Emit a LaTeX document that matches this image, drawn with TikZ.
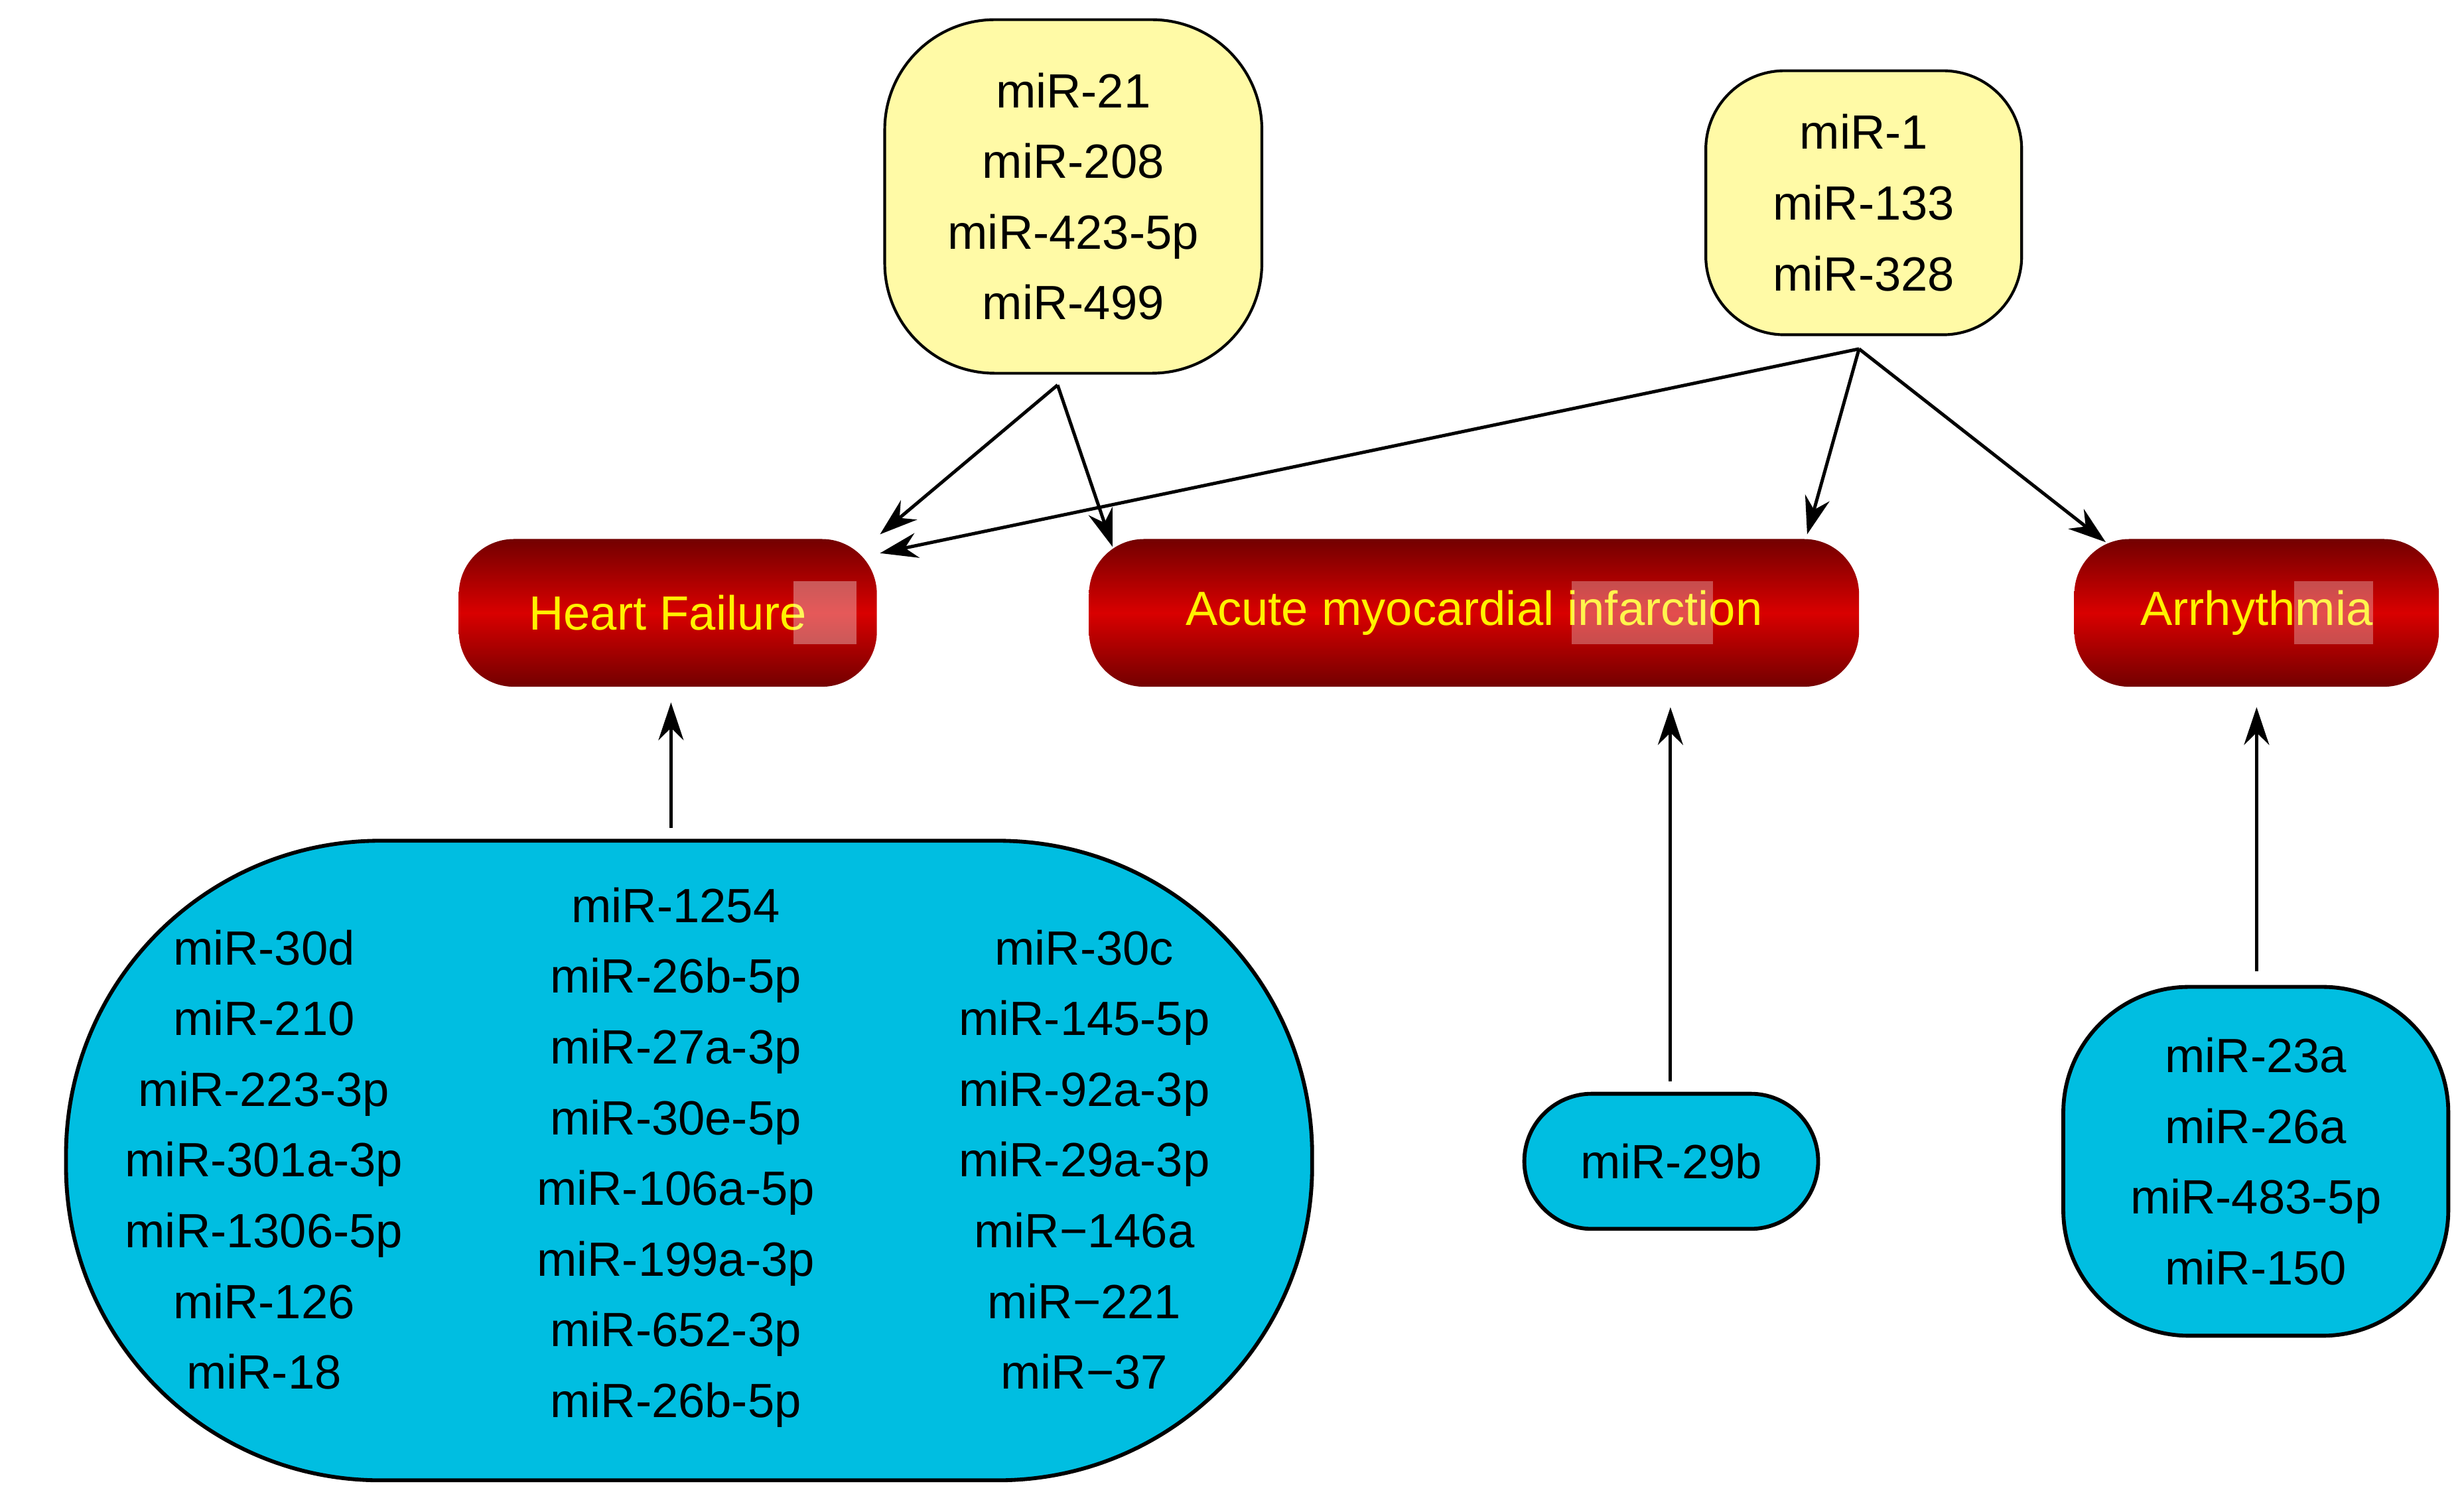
\documentclass[tikz,border=0pt]{standalone}
\usepackage{fontspec}
\setmainfont{Liberation Sans}
\usetikzlibrary{arrows.meta,shapes.misc}
\begin{document}
\begin{tikzpicture}[
  txt/.style={font=\fontsize{8.7}{12.8}\selectfont,align=center,inner sep=0pt},
  yel/.style={draw=black,line width=0.5pt,fill=yellow!35!white,rounded corners=0.7cm},
  blu/.style={draw=black,line width=0.7pt,fill=cyan!70!blue!80!white},
  red/.style={rounded corners=0.35cm,top color=red!45!black,bottom color=red!45!black,middle color=red!85!black,minimum height=0.94cm,text=yellow,font=\fontsize{8.7}{12.8}\selectfont},
  arr/.style={-{Stealth[length=2.4mm,width=1.6mm]},line width=0.6pt}
]
\useasboundingbox (0,0) rectangle (15.68,-9.57);
\definecolor{bluefill}{RGB}{0,190,225}
% yellow nodes
\node[yel,minimum width=2.4cm,minimum height=2.25cm,txt] (y1) at (6.83,-1.25) {miR-21\\miR-208\\miR-423-5p\\miR-499};
\node[yel,minimum width=2.01cm,minimum height=1.68cm,rounded corners=0.5cm,txt] (y2) at (11.86,-1.29) {miR-1\\miR-133\\miR-328};
% red nodes
\node[red,minimum width=2.66cm] (hf) at (4.25,-3.90) {Heart Failure};
\node[red,minimum width=4.90cm] (ami) at (9.38,-3.90) {Acute myocardial infarction};
\node[red,minimum width=2.32cm] (ar) at (14.36,-3.90) {Arrhythmia};
\fill[white,opacity=0.35] (5.05,-3.70) rectangle (5.45,-4.10);
\fill[white,opacity=0.3] (10.0,-3.70) rectangle (10.9,-4.10);
\fill[white,opacity=0.3] (14.6,-3.70) rectangle (15.1,-4.10);
% blue nodes
\node[blu,fill=bluefill,rounded corners=2.0cm,minimum width=7.93cm,minimum height=4.07cm] (b1) at (4.385,-7.385) {};
\node[txt] (c1) at (1.68,-7.38) {miR-30d\\miR-210\\miR-223-3p\\miR-301a-3p\\miR-1306-5p\\miR-126\\miR-18};
\node[txt] (c2) at (4.30,-7.365) {miR-1254\\miR-26b-5p\\miR-27a-3p\\miR-30e-5p\\miR-106a-5p\\miR-199a-3p\\miR-652-3p\\miR-26b-5p};
\node[txt] (c3) at (6.90,-7.38) {miR-30c\\miR-145-5p\\miR-92a-3p\\miR-29a-3p\\miR−146a\\miR−221\\miR−37};
\node[blu,fill=bluefill,rounded corners=0.43cm,minimum width=1.87cm,minimum height=0.86cm,txt] (b2) at (10.635,-7.39) {miR-29b};
\node[blu,fill=bluefill,rounded corners=0.8cm,minimum width=2.45cm,minimum height=2.22cm,txt] (b3) at (14.355,-7.39) {miR-23a\\miR-26a\\miR-483-5p\\miR-150};
% arrows
\coordinate (s1) at (6.73,-2.45);
\coordinate (s2) at (11.83,-2.22);
\draw[arr] (s1) -- (5.60,-3.40);
\draw[arr] (s1) -- (7.08,-3.48);
\draw[arr] (s2) -- (5.60,-3.52);
\draw[arr] (s2) -- (11.50,-3.40);
\draw[arr] (s2) -- (13.40,-3.45);
\draw[arr] (4.27,-5.27) -- (4.27,-4.47);
\draw[arr] (10.63,-6.88) -- (10.63,-4.50);
\draw[arr] (14.36,-6.18) -- (14.36,-4.50);
\end{tikzpicture}
\end{document}
